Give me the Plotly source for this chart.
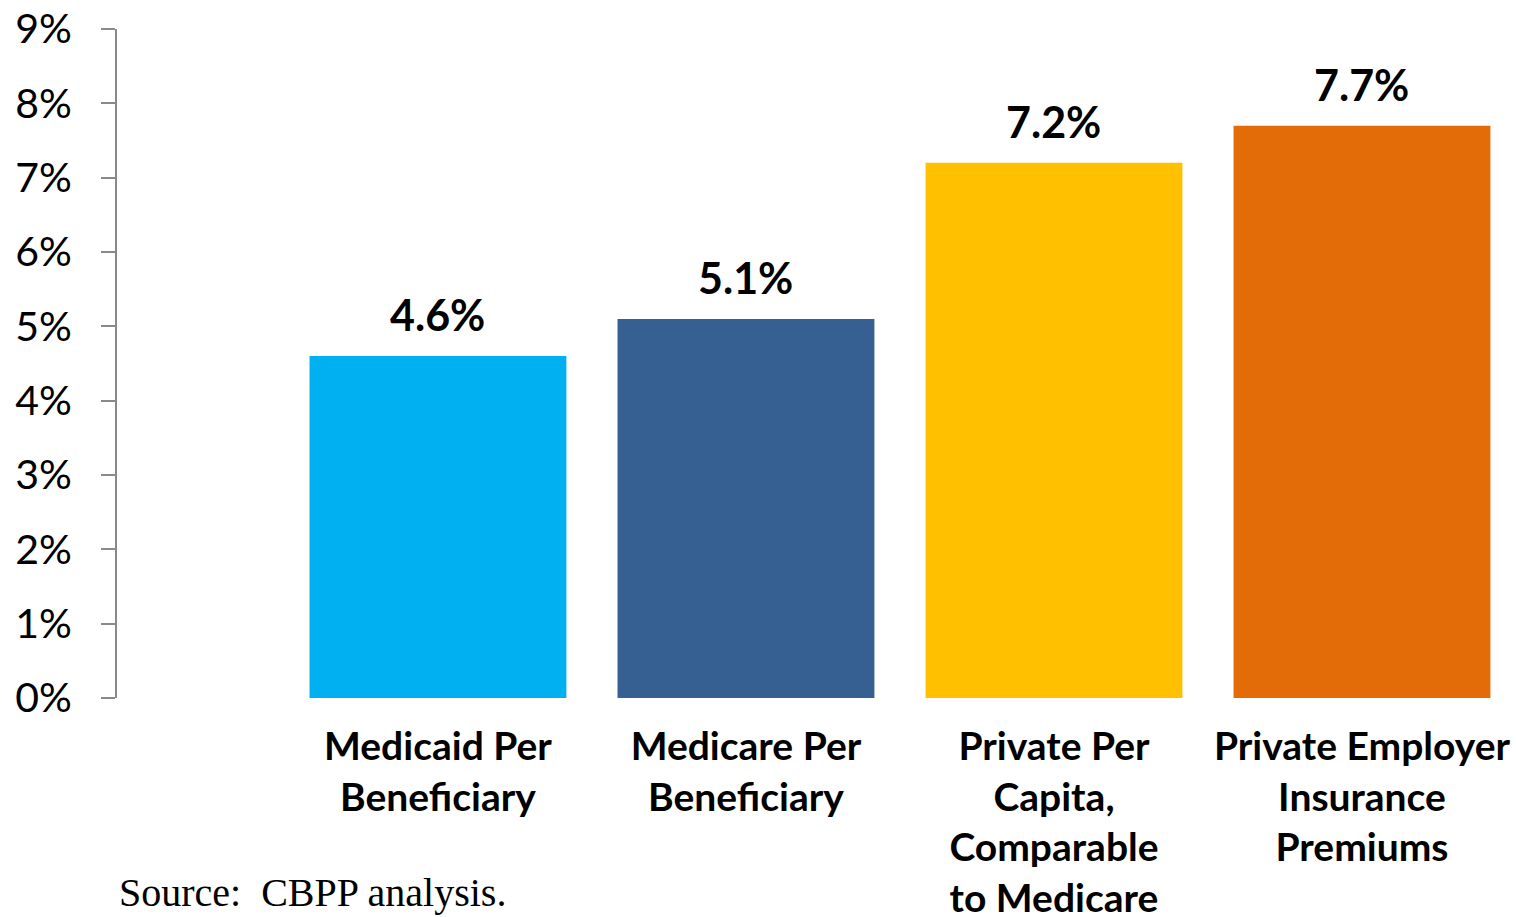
import plotly.graph_objects as go

categories = [
    "Medicaid Per<br>Beneficiary",
    "Medicare Per<br>Beneficiary",
    "Private Per<br>Capita,<br>Comparable<br>to Medicare",
    "Private Employer<br>Insurance<br>Premiums",
]
values = [4.6, 5.1, 7.2, 7.7]
value_labels = ["4.6%", "5.1%", "7.2%", "7.7%"]
colors = ["#00B0F0", "#376092", "#FFC000", "#E36C09"]
y_ticks = [0, 1, 2, 3, 4, 5, 6, 7, 8, 9]
y_tick_labels = ["0%", "1%", "2%", "3%", "4%", "5%", "6%", "7%", "8%", "9%"]

xpos = list(range(len(categories)))

fig = go.Figure()
fig.add_trace(go.Bar(
    x=xpos, y=values, marker=dict(color=colors, line=dict(width=0)),
    hoverinfo="skip",
))

for xp, v, lab in zip(xpos, values, value_labels):
    fig.add_annotation(
        x=xp, y=v, text=lab, showarrow=False, yanchor="bottom",
        yshift=14, font=dict(family="Lato", size=43, color="#000000", weight="bold"),
    )

fig.add_annotation(
    xref="paper", yref="paper", x=0.0, y=-0.29, xanchor="left", yanchor="middle",
    text="Source:  CBPP analysis.", showarrow=False,
    font=dict(family="Liberation Serif", size=40, color="#000000"),
)

fig.update_layout(
    width=1516, height=917,
    margin=dict(l=117, r=0, t=29, b=219, autoexpand=False),
    paper_bgcolor="white", plot_bgcolor="white",
    bargap=0.166, showlegend=False,
)
fig.update_xaxes(
    range=[-1.042, 3.5], tickmode="array", tickvals=xpos, ticktext=categories,
    showline=False, showgrid=False, zeroline=False, ticks="",
    ticklabelstandoff=22, automargin=False,
    tickfont=dict(family="Lato", size=39, color="#000000", weight="bold"),
)
fig.update_yaxes(
    range=[0, 9], tickmode="array", tickvals=y_ticks, ticktext=y_tick_labels,
    showline=True, linecolor="#898989", linewidth=2,
    ticks="outside", ticklen=14, tickwidth=2, tickcolor="#898989",
    showgrid=False, zeroline=False, ticklabelstandoff=21, automargin=False,
    tickfont=dict(family="Lato", size=41, color="#000000"),
)

fig.write_html(
    "out.html",
    config={"displayModeBar": False},
    post_script="document.body.style.margin='0';document.body.style.padding='0';",
)
